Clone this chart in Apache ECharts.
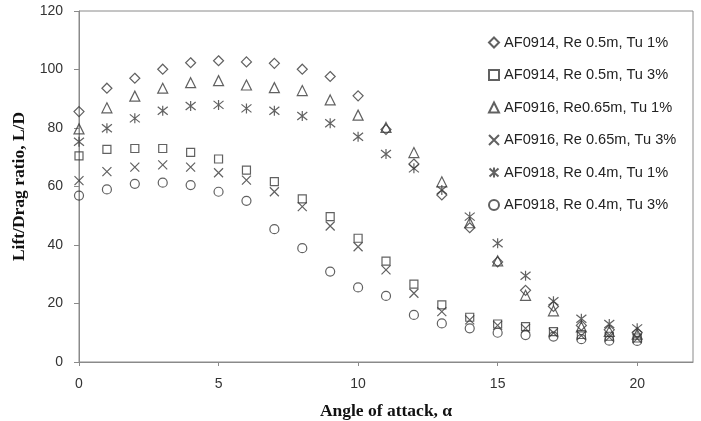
<!DOCTYPE html>
<html>
<head>
<meta charset="utf-8">
<script src="https://cdn.jsdelivr.net/npm/echarts@6/dist/echarts.min.js"></script>
<style>
  html, body { margin: 0; padding: 0; background: #fff; }
  #chart { width: 701px; height: 421px; }
</style>
</head>
<body>
<div id="chart"></div>
<script>
// Angle of attack (degrees)
const angles = [0, 1, 2, 3, 4, 5, 6, 7, 8, 9, 10, 11, 12, 13, 14, 15, 16, 17, 18, 19, 20];

// Lift/Drag ratio for each airfoil / Reynolds number / turbulence case
const af0914Tu1 = [85.6, 93.6, 97.0, 100.1, 102.3, 103.0, 102.6, 102.1, 100.1, 97.6, 91.0, 79.5, 67.7, 57.1, 45.9, 34.2, 24.5, 19.0, 12.5, 11.0, 10.0];
const af0914Tu3 = [70.5, 72.7, 73.0, 73.0, 71.7, 69.4, 65.6, 61.7, 55.8, 49.7, 42.3, 34.5, 26.6, 19.5, 15.3, 13.0, 12.1, 10.4, 9.4, 8.8, 8.2];
const af0916Tu1 = [79.7, 86.9, 90.9, 93.6, 95.5, 96.2, 94.7, 93.8, 92.8, 89.6, 84.4, 80.2, 71.6, 61.6, 47.6, 34.6, 22.8, 17.5, 12.0, 10.5, 9.5];
const af0916Tu3 = [62.0, 65.1, 66.6, 67.4, 66.6, 64.7, 62.2, 58.2, 53.1, 46.5, 39.4, 31.5, 23.5, 17.2, 14.4, 12.5, 11.5, 10.0, 9.0, 8.5, 8.0];
const af0918Tu1 = [75.3, 79.9, 83.3, 85.9, 87.5, 87.9, 86.7, 85.9, 84.1, 81.6, 77.0, 71.1, 66.2, 58.8, 49.7, 40.6, 29.5, 20.8, 14.8, 13.0, 11.5];
const af0918Tu3 = [56.9, 59.0, 60.9, 61.3, 60.5, 58.2, 55.1, 45.4, 38.9, 30.9, 25.5, 22.6, 16.1, 13.2, 11.5, 10.0, 9.2, 8.7, 7.8, 7.3, 7.2];

const seriesNames = [
  'AF0914, Re 0.5m, Tu 1%',
  'AF0914, Re 0.5m, Tu 3%',
  'AF0916, Re0.65m, Tu 1%',
  'AF0916, Re 0.65m, Tu 3%',
  'AF0918, Re 0.4m, Tu 1%',
  'AF0918, Re 0.4m, Tu 3%'
];

// Axis ticks
const xTicks = [0, 5, 10, 15, 20];
const yTicks = [0, 20, 40, 60, 80, 100, 120];

const stroke = '#3a3a3a';
const crossPath = 'path://M0,0L10,10M10,0L0,10';
const starPath = 'path://M0.5,1L9.5,9M9.5,1L0.5,9M5,0L5,10';

const markers = [
  { symbol: 'diamond', size: 10 },
  { symbol: 'rect', size: 8 },
  { symbol: 'triangle', size: 10 },
  { symbol: crossPath, size: 9 },
  { symbol: starPath, size: 10 },
  { symbol: 'circle', size: 9 }
];
const values = [af0914Tu1, af0914Tu3, af0916Tu1, af0916Tu3, af0918Tu1, af0918Tu3];

const labelFont = 'Liberation Sans, Arial, sans-serif';
const titleFont = 'Liberation Serif, Times New Roman, serif';

const chart = echarts.init(document.getElementById('chart'), null, { renderer: 'canvas' });

chart.setOption({
  animation: false,
  backgroundColor: '#ffffff',
  grid: {
    left: 79, right: 8, top: 11, bottom: 59,
    show: true, borderColor: '#8a8a8a', borderWidth: 1,
    containLabel: false,
    outerBoundsMode: 'none'
  },
  legend: {
    orient: 'vertical',
    left: 488,
    top: 35,
    padding: 0,
    itemWidth: 10,
    itemHeight: 10,
    itemGap: 17.5,
    textStyle: { fontSize: 14.6, fontFamily: labelFont, color: '#222' },
    data: seriesNames
  },
  xAxis: {
    type: 'value',
    min: 0, max: 22, interval: 5,
    name: 'Angle of attack, α',
    nameLocation: 'middle',
    nameGap: 40,
    nameTextStyle: { fontFamily: titleFont, fontWeight: 'bold', fontSize: 17.5, color: '#111' },
    axisLine: { show: true, lineStyle: { color: '#8a8a8a', width: 1 } },
    axisTick: { show: true, length: 4, customValues: xTicks, lineStyle: { color: '#8a8a8a' } },
    axisLabel: { customValues: xTicks, margin: 15, fontSize: 14, fontFamily: labelFont, color: '#333' },
    splitLine: { show: false }
  },
  yAxis: {
    type: 'value',
    min: 0, max: 120, interval: 20,
    name: 'Lift/Drag ratio, L/D',
    nameLocation: 'middle',
    nameGap: 50,
    nameTextStyle: { fontFamily: titleFont, fontWeight: 'bold', fontSize: 17.5, color: '#111' },
    axisLine: { show: true, lineStyle: { color: '#8a8a8a', width: 1 } },
    axisTick: { show: true, length: 5, customValues: yTicks, lineStyle: { color: '#8a8a8a' } },
    axisLabel: { customValues: yTicks, margin: 16, fontSize: 14, fontFamily: labelFont, color: '#333' },
    splitLine: { show: false }
  },
  series: seriesNames.map((name, i) => ({
    name: name,
    type: 'scatter',
    symbol: markers[i].symbol,
    symbolSize: markers[i].size,
    itemStyle: { color: 'rgba(0,0,0,0)', borderColor: stroke, borderWidth: 1.2 },
    emphasis: { disabled: true },
    data: angles.map((a, k) => [a, values[i][k]])
  }))
});
</script>
</body>
</html>
